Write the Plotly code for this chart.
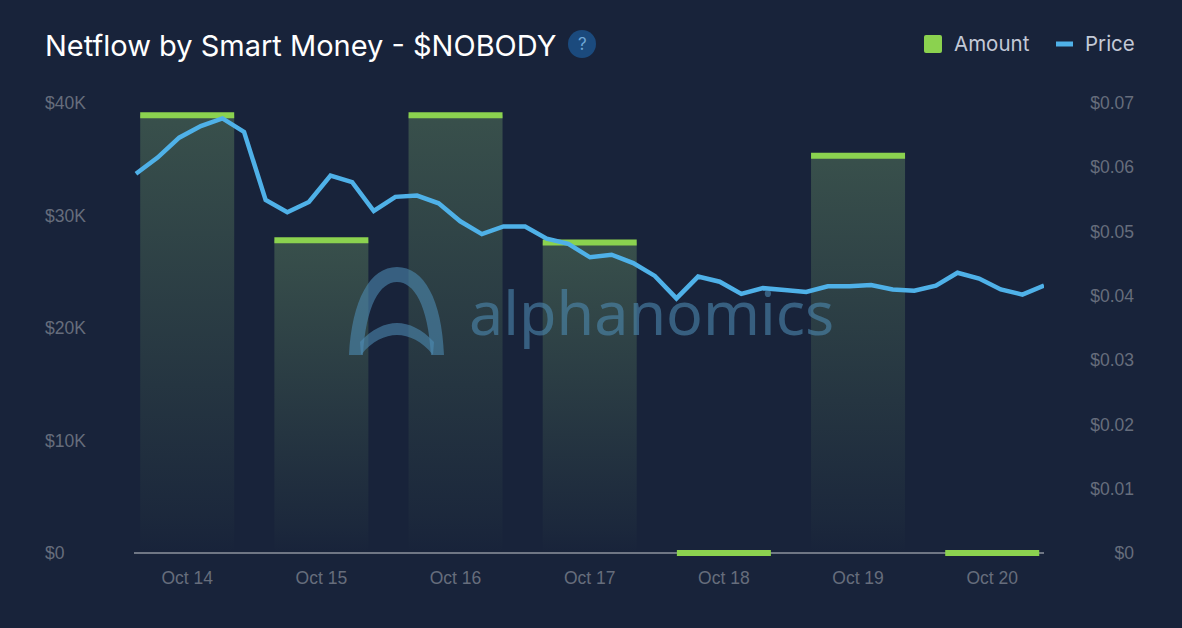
import plotly.graph_objects as go

W, H = 1182, 628
BG = "#18233a"

days = ["Oct 14", "Oct 15", "Oct 16", "Oct 17", "Oct 18", "Oct 19", "Oct 20"]
amount = [38900, 27800, 38900, 27600, 0, 35300, 0]
price = [0.0590, 0.0615, 0.0646, 0.0664, 0.0676, 0.0655, 0.0549, 0.0530, 0.0546, 0.0587,
         0.0577, 0.0532, 0.0554, 0.0556, 0.0544, 0.0516, 0.0496, 0.0508, 0.0508, 0.0489,
         0.0481, 0.0460, 0.0464, 0.0451, 0.0431, 0.0396, 0.0430, 0.0422, 0.0403, 0.0412,
         0.0409, 0.0406, 0.0415, 0.0415, 0.0417, 0.0410, 0.0408, 0.0416, 0.0436, 0.0427,
         0.0410, 0.0402, 0.0416]
amount_ticks = [0, 10000, 20000, 30000, 40000]
amount_labels = ["$0", "$10K", "$20K", "$30K", "$40K"]
price_ticks = [0, 0.01, 0.02, 0.03, 0.04, 0.05, 0.06, 0.07]
price_labels = ["$0", "$0.01", "$0.02", "$0.03", "$0.04", "$0.05", "$0.06", "$0.07"]

GREEN = "#8bd24f"
BLUE = "#4fb1e8"
TICK = "#666d7c"
DAY_PX = 134.17
HALF_BAR = 47 / DAY_PX
PAD_PX = 12  # room around the value range so the end tick labels stay visible


def px(x):
    return x / W


def py(y):
    return 1 - y / H


def path(d):
    """Turn a path of pixel pairs into paper coordinates."""
    out = []
    for tok in d.split():
        if "," in tok:
            a, b = tok.split(",")
            out.append(f"{px(float(a)):.5f},{py(float(b)):.5f}")
        else:
            out.append(tok)
    return " ".join(out)


fig = go.Figure()

for i, (day, val) in enumerate(zip(days, amount)):
    xs = [i - HALF_BAR, i + HALF_BAR]
    if val > 0:
        fig.add_trace(go.Scatter(
            x=[xs[0], xs[1], xs[1], xs[0], xs[0]], y=[0, 0, val, val, 0],
            mode="none", fill="toself", hoverinfo="skip", showlegend=False,
            fillgradient=dict(type="vertical", colorscale=[
                [0, "rgba(140,195,120,0.0)"], [0.08, "rgba(140,195,120,0.03)"],
                [1, "rgba(140,195,120,0.28)"]]),
        ))
    fig.add_trace(go.Scatter(
        x=xs, y=[val, val], mode="lines", cliponaxis=False, showlegend=False,
        line=dict(color=GREEN, width=6), name="Amount",
    ))

fig.add_trace(go.Scatter(
    x=list(range(len(price))), y=price, xaxis="x2", yaxis="y2", mode="lines",
    cliponaxis=False, line=dict(color=BLUE, width=4.5), name="Price", showlegend=False,
))

dom_x = [px(134), px(1044)]
dom_y = [py(553 + PAD_PX), py(103 - PAD_PX)]
pad_frac = PAD_PX / 450
tickfont = dict(family="Liberation Sans, Arial, sans-serif", size=17.5, color=TICK)

WM = "rgba(78,140,180,0.58)"
shapes = [
    dict(type="path", xref="paper", yref="paper", layer="above", line_width=0, fillcolor=WM,
         path=path("M 349,355 C 352,300 370,267 397,267 C 424,267 442,300 444,355 L 431,355 "
                   "C 428,305 414,282 397,282 C 380,282 366,305 363,355 Z")),
    dict(type="path", xref="paper", yref="paper", layer="above", line_width=0, fillcolor=WM,
         path=path("M 360,342 C 372,329 385,323 397,323 C 409,323 422,329 434,342 L 433,355 "
                   "C 422,341 409,335 397,335 C 385,335 372,341 361,355 Z")),
    dict(type="circle", xref="paper", yref="paper", line_width=0, fillcolor="#1b4a7d",
         x0=px(568), x1=px(596), y0=py(58), y1=py(30)),
    dict(type="path", xref="paper", yref="paper", line_width=0, fillcolor=GREEN,
         path=path("M 926,35 L 940,35 Q 942,35 942,37 L 942,51 Q 942,53 940,53 L 926,53 "
                   "Q 924,53 924,51 L 924,37 Q 924,35 926,35 Z")),
    dict(type="line", xref="paper", yref="paper", line=dict(color=BLUE, width=5),
         x0=px(1056), x1=px(1073), y0=py(44), y1=py(44)),
]


def label(text, x, y, size, color, family, anchor="left"):
    return dict(text=text, x=px(x), y=py(y), xref="paper", yref="paper", showarrow=False,
                xanchor=anchor, yanchor="middle", borderpad=0,
                font=dict(size=size, color=color, family=family))


annotations = [
    label("Netflow by Smart Money - $NOBODY", 44, 45, 29, "#ffffff", "Inter"),
    label("?", 582, 44, 17, "#6ea6d6", "Inter", "center"),
    label("Amount", 953, 44, 20.5, "#c3c9d6", "Inter"),
    label("Price", 1084, 44, 20.5, "#c3c9d6", "Inter"),
    label("alphanomics", 468, 311, 61, WM, "Noto Sans"),
]

fig.update_layout(
    width=W, height=H, autosize=False,
    margin=dict(l=0, r=0, t=0, b=0),
    paper_bgcolor=BG, plot_bgcolor=BG, showlegend=False,
    shapes=shapes, annotations=annotations,
    xaxis=dict(domain=dom_x, range=[-53.2 / DAY_PX, 856.8 / DAY_PX], anchor="y",
               tickmode="array", tickvals=list(range(len(days))), ticktext=days,
               tickfont=tickfont, ticks="", ticklen=0, showgrid=False, zeroline=False,
               showline=False),
    xaxis2=dict(domain=dom_x, range=[-0.09, len(price) - 1], overlaying="x", visible=False),
    yaxis=dict(domain=dom_y, range=[-40000 * pad_frac, 40000 * (1 + pad_frac)],
               anchor="free", position=px(41),
               ticklabelposition="inside", tickmode="array", tickvals=amount_ticks,
               ticktext=amount_labels, tickfont=tickfont, showgrid=False, zeroline=True,
               zerolinecolor="#6f7684", zerolinewidth=1.5, showline=False, ticks=""),
    yaxis2=dict(domain=dom_y, range=[-0.07 * pad_frac, 0.07 * (1 + pad_frac)],
                anchor="free", position=px(1137), side="right",
                overlaying="y", ticklabelposition="inside", tickmode="array",
                tickvals=price_ticks, ticktext=price_labels, tickfont=tickfont,
                showgrid=False, zeroline=False, showline=False, ticks=""),
)

fig.write_html("out.html", config={"displayModeBar": False},
               post_script="document.body.style.margin='0';")
